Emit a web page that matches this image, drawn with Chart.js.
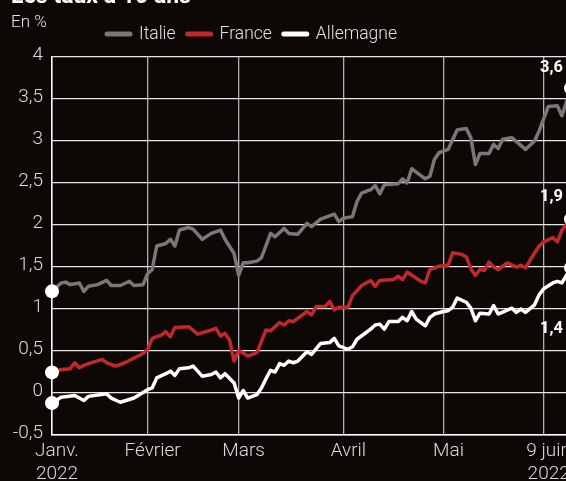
<!DOCTYPE html>
<html><head><meta charset="utf-8">
<script src="https://cdn.jsdelivr.net/npm/chart.js@4.4.0/dist/chart.umd.min.js"></script>
<style>
html,body{margin:0;padding:0;background:#0d0805;overflow:hidden;width:566px;height:481px;}
#wrap{position:absolute;left:0;top:0;width:600px;height:481px;}
</style></head><body>
<div id="wrap"><canvas id="c" width="600" height="481"></canvas></div>
<script>
// ---- data (x = trading-day index since 3 Jan 2022) ----
const seriesNames = ['Italie', 'France', 'Allemagne'];
const tickDays = [0, 21, 41, 64, 86, 108];
const tickLabels = [['Janv.', '2022'], 'Février', 'Mars', 'Avril', 'Mai', ['9 juin', '2022']];
const endLabels = ['3,6', '1,9', '1,4'];

const italieDays = [0,2,3,4,6,7,8,10,12,13,15,17,18,20,21,22,23,25,26,27,28,30,31,33,35,37,38,40,41,42,43,45,46,48,49,51,52,54,56,57,59,62,63,64,66,67,68,70,71,72,73,76,77,78,79,82,83,84,85,87,89,91,92,93,94,96,97,98,99,101,104,106,107,109,111,112,114];
const italieValues = [1.21,1.31,1.32,1.29,1.31,1.21,1.27,1.29,1.34,1.28,1.28,1.33,1.28,1.29,1.42,1.47,1.75,1.78,1.83,1.75,1.94,1.97,1.95,1.83,1.90,1.94,1.83,1.66,1.40,1.55,1.55,1.57,1.61,1.90,1.86,1.96,1.90,1.89,2.02,1.98,2.07,2.13,2.04,2.08,2.10,2.28,2.38,2.42,2.47,2.37,2.48,2.49,2.55,2.50,2.67,2.55,2.58,2.78,2.86,2.90,3.13,3.15,3.04,2.72,2.85,2.85,2.96,2.91,3.02,3.04,2.90,3.00,3.12,3.41,3.42,3.30,3.63];

const franceDays = [0,2,4,5,6,7,8,11,12,14,16,20,21,22,23,24,25,26,27,30,32,35,36,37,38,39,40,41,43,45,47,48,50,51,52,53,56,57,58,60,61,62,63,65,66,68,69,70,71,72,75,76,77,78,81,82,83,85,87,88,90,91,92,93,94,95,96,97,98,100,102,103,104,105,107,108,110,111,112,114];
const franceValues = [0.245,0.28,0.29,0.36,0.30,0.33,0.35,0.40,0.36,0.32,0.36,0.47,0.52,0.65,0.67,0.69,0.73,0.67,0.78,0.79,0.70,0.75,0.77,0.68,0.71,0.63,0.38,0.51,0.44,0.48,0.75,0.74,0.84,0.81,0.86,0.85,0.97,0.93,1.03,1.03,1.09,0.99,1.02,1.02,1.16,1.28,1.31,1.34,1.27,1.34,1.35,1.39,1.35,1.44,1.33,1.31,1.47,1.51,1.52,1.67,1.65,1.62,1.48,1.40,1.47,1.46,1.56,1.50,1.47,1.55,1.50,1.52,1.49,1.58,1.75,1.80,1.85,1.80,1.94,2.07];

const allemagneDays = [0,2,5,7,8,12,13,15,18,21,22,23,25,26,27,28,30,31,33,35,36,37,38,40,41,42,43,45,46,47,48,49,50,51,52,53,54,56,57,59,61,62,63,65,66,67,69,70,71,72,73,74,76,77,78,79,80,82,83,84,86,87,88,89,91,92,93,94,96,97,98,101,102,103,104,106,107,108,110,111,112,114];
const allemagneValues = [-0.12,-0.05,-0.03,-0.09,-0.04,-0.01,-0.06,-0.11,-0.06,0.04,0.06,0.18,0.23,0.26,0.21,0.29,0.30,0.32,0.20,0.22,0.25,0.18,0.23,0.12,-0.06,0.03,-0.06,-0.02,0.06,0.17,0.27,0.25,0.35,0.33,0.38,0.36,0.38,0.49,0.46,0.59,0.60,0.65,0.56,0.52,0.55,0.64,0.72,0.76,0.81,0.82,0.76,0.85,0.85,0.90,0.86,0.97,0.88,0.80,0.90,0.94,0.97,0.98,1.02,1.13,1.08,1.01,0.86,0.95,0.94,1.04,0.94,1.01,0.96,1.00,0.96,1.05,1.17,1.24,1.31,1.33,1.31,1.49];

// ---- styles ----
const BG = '#0d0805';
const colors = ['#7a7876', '#c1272d', '#ffffff'];
const endLabelOffsets = [-20, -22, 61];
const FONT = 'Roboto';

function pts(days, vals){ return days.map((d,i)=>({x:d, y:vals[i]})); }
const allSeries = [[italieDays, italieValues], [franceDays, franceValues], [allemagneDays, allemagneValues]];

const datasets = allSeries.map((s,i)=>({
  label: seriesNames[i],
  data: pts(s[0], s[1]),
  borderColor: colors[i],
  borderWidth: 3.5,
  borderJoinStyle: 'round',
  borderCapStyle: 'round',
  tension: 0,
  clip: false,
  pointRadius: ctx => (ctx.dataIndex === 0 || ctx.dataIndex === s[0].length - 1) ? 7 : 0,
  pointHoverRadius: 0,
  pointBackgroundColor: '#ffffff',
  pointBorderWidth: 0
}));

const decor = {
  id: 'decor',
  beforeDraw(chart){
    const c = chart.ctx; c.save(); c.fillStyle = BG; c.fillRect(0,0,chart.width,chart.height); c.restore();
  },
  afterDraw(chart){
    const c = chart.ctx; c.save();
    c.textAlign = 'left';
    c.textBaseline = 'alphabetic';
    c.fillStyle = '#ffffff';
    c.font = 'bold 23px ' + FONT;
    c.fillText('Les taux à 10 ans', 11, 3);
    c.fillStyle = '#e2e2e2';
    c.font = '300 17px ' + FONT;
    c.fillText('En %', 11, 27);
    // legend
    c.font = '300 17.5px ' + FONT;
    c.textBaseline = 'middle';
    let x = 107;
    seriesNames.forEach((n,i)=>{
      c.strokeStyle = colors[i]; c.lineWidth = 5; c.lineCap = 'round';
      c.beginPath(); c.moveTo(x, 34); c.lineTo(x + 23, 34); c.stroke();
      c.fillStyle = '#e2e2e2';
      c.fillText(n, x + 32, 35);
      x += 32 + c.measureText(n).width + 12;
    });
    // end labels
    c.font = 'bold 16.5px ' + FONT;
    c.fillStyle = '#ffffff';
    chart.data.datasets.forEach((ds,i)=>{
      const meta = chart.getDatasetMeta(i);
      const p = meta.data[meta.data.length - 1];
      c.fillText(endLabels[i], p.x - 31, p.y + endLabelOffsets[i]);
    });
    c.restore();
  }
};

new Chart(document.getElementById('c'), {
  type: 'line',
  data: { datasets },
  options: {
    responsive: false,
    devicePixelRatio: 1,
    animation: false,
    events: [],
    layout: { padding: { top: 57, right: 29, left: 0, bottom: 0 } },
    plugins: { legend: { display: false }, title: { display: false }, tooltip: { enabled: false } },
    scales: {
      x: {
        type: 'linear', min: 0, max: 114,
        afterBuildTicks: s => { s.ticks = tickDays.map(v => ({ value: v })); },
        afterFit: s => { s.height = 46; },
        ticks: {
          autoSkip: false, maxRotation: 0, minRotation: 0,
          callback: v => tickLabels[tickDays.indexOf(v)],
          color: '#dcdcdc', font: { family: FONT, size: 19, weight: 300 },
          padding: 5, labelOffset: 5
        },
        grid: { color: '#b0b0b0', lineWidth: 1.3, drawTicks: false },
        border: { display: true, color: '#ffffff', width: 1.5 }
      },
      y: {
        min: -0.5, max: 4,
        afterFit: s => { s.width = 52; },
        ticks: {
          stepSize: 0.5,
          callback: v => String(Math.round(v * 10) / 10).replace('.', ','),
          color: '#dcdcdc', font: { family: FONT, size: 19, weight: 300 },
          padding: 9, labelOffset: -2
        },
        grid: { color: '#e6e6e6', lineWidth: 1.3, drawTicks: false },
        border: { display: true, color: '#ffffff', width: 1.5 }
      }
    }
  },
  plugins: [decor]
});
</script>
</body></html>
